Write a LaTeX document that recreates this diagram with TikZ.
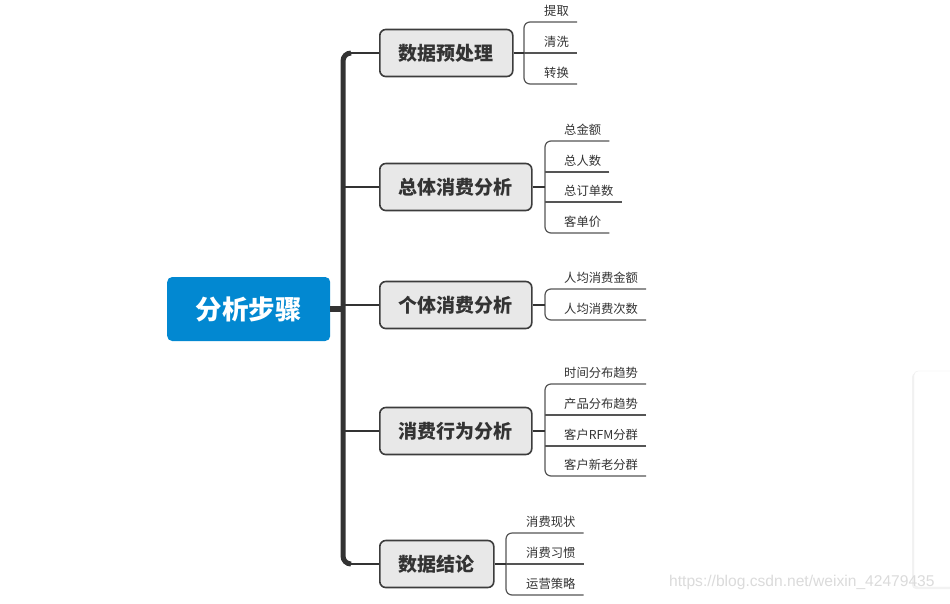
\documentclass[tikz,border=0pt]{standalone}
\usepackage{fontspec}
\setmainfont{Liberation Sans}
\newfontfamily\cjk{Noto Sans CJK SC}
\usetikzlibrary{shadows}
\definecolor{rootblue}{RGB}{2,136,209}
\definecolor{boxfill}{RGB}{232,232,232}
\definecolor{boxline}{RGB}{60,60,60}
\definecolor{trunkc}{RGB}{51,51,51}
\definecolor{leafc}{RGB}{85,85,85}
\definecolor{textdark}{RGB}{51,51,51}
\begin{document}
\begin{tikzpicture}[x=1pt,y=-1pt,
  rootnode/.style={fill=rootblue, rounded corners=5pt, minimum width=163pt, minimum height=64pt,
    text=white, font=\cjk\bfseries\fontsize{26.5}{30}\selectfont, inner sep=0pt, anchor=west},
  topic/.style={draw=boxline, line width=1.6pt, fill=boxfill, rounded corners=6pt,
    minimum height=47pt, inner xsep=19pt, inner ysep=0pt,
    font=\cjk\bfseries\fontsize{19}{22}\selectfont, text=textdark, anchor=west},
  leaf/.style={font=\cjk\fontsize{12.3}{14}\selectfont, text=textdark, inner xsep=8pt,
    inner ysep=5pt, anchor=south west},
  trunk/.style={draw=trunkc, line width=5pt},
  branch/.style={draw=trunkc, line width=1.8pt},
  leafline/.style={draw=leafc, line width=1.2pt},
  bracket/.style={leafline, rounded corners=6pt}]
\fill[white] (0,0) rectangle (950,603);
\useasboundingbox (0,0) rectangle (950,603);
\begin{scope}
\clip (0,0) rectangle (950,603);
\fill[white, draw=gray!14, rounded corners=4pt, drop shadow={opacity=0.1, shadow xshift=-2pt, shadow yshift=-2pt}] (914,371) rectangle (970,587);
\end{scope}
\node[text=gray!28, font=\fontsize{15.6}{17}\selectfont, anchor=west, inner sep=0pt] (wm) at (669,582) {https://blog.csdn.net/weixin\_42479435};

% root
\node[rootnode] (root) at (167,309) {分析步骤};

% topics
\node[topic] (b1) at (379,53) {数据预处理};
\node[topic] (b2) at (379,187) {总体消费分析};
\node[topic] (b3) at (379,305) {个体消费分析};
\node[topic] (b4) at (379,431) {消费行为分析};
\node[topic] (b5) at (379,564) {数据结论};

% trunk
\coordinate (tm) at (343,309);
\coordinate (t1) at (351,53);
\coordinate (t5) at (351,564);
\coordinate (j2) at (343,187);
\coordinate (j3) at (343,305);
\coordinate (j4) at (343,431);
\draw[trunk, rounded corners=8pt] (t1) -| (tm) |- (t5);
\draw[trunkc, line width=6pt] (root.east) -- (tm);
\draw[branch] (t1) -- (b1.west);
\draw[branch] (j2) -- (b2.west);
\draw[branch] (j3) -- (b3.west);
\draw[branch] (j4) -- (b4.west);
\draw[branch] (t5) -- (b5.west);

% group 1
\coordinate (k1) at (524,53);
\node[leaf] (l11) at (536,22) {提取};
\node[leaf] (l12) at (536,53) {清洗};
\node[leaf] (l13) at (536,84) {转换};
\draw[bracket] (l11.south east) -| (k1) |- (l13.south east);
\draw[branch] (b1.east) -- (k1);
\draw[leafline] (k1) -- (l12.south east);

% group 2
\coordinate (k2) at (545,187);
\node[leaf] (l21) at (556,141) {总金额};
\node[leaf] (l22) at (556,172) {总人数};
\node[leaf] (l23) at (556,202) {总订单数};
\node[leaf] (l24) at (556,233) {客单价};
\draw[bracket] (l21.south east) -| (k2) |- (l24.south east);
\draw[branch] (b2.east) -- (k2);
\draw[leafline] (l22.south east) -- (l22.south east -| k2);
\draw[leafline] (l23.south east) -- (l23.south east -| k2);

% group 3
\coordinate (k3) at (545,305);
\node[leaf] (l31) at (556,289) {人均消费金额};
\node[leaf] (l32) at (556,320) {人均消费次数};
\draw[bracket] (l31.south east) -| (k3) |- (l32.south east);
\draw[branch] (b3.east) -- (k3);

% group 4
\coordinate (k4) at (545,431);
\node[leaf] (l41) at (556,384) {时间分布趋势};
\node[leaf] (l42) at (556,415) {产品分布趋势};
\node[leaf] (l43) at (556,446) {客户RFM分群};
\node[leaf] (l44) at (556,476) {客户新老分群};
\draw[bracket] (l41.south east) -| (k4) |- (l44.south east);
\draw[branch] (b4.east) -- (k4);
\draw[leafline] (l42.south east) -- (l42.south east -| k4);
\draw[leafline] (l43.south east) -- (l43.south east -| k4);

% group 5
\coordinate (k5) at (506,564);
\node[leaf] (l51) at (518,533) {消费现状};
\node[leaf] (l52) at (518,564) {消费习惯};
\node[leaf] (l53) at (518,595) {运营策略};
\draw[bracket] (l51.south east) -| (k5) |- (l53.south east);
\draw[branch] (b5.east) -- (k5);
\draw[leafline] (k5) -- (l52.south east);
\end{tikzpicture}
\end{document}
